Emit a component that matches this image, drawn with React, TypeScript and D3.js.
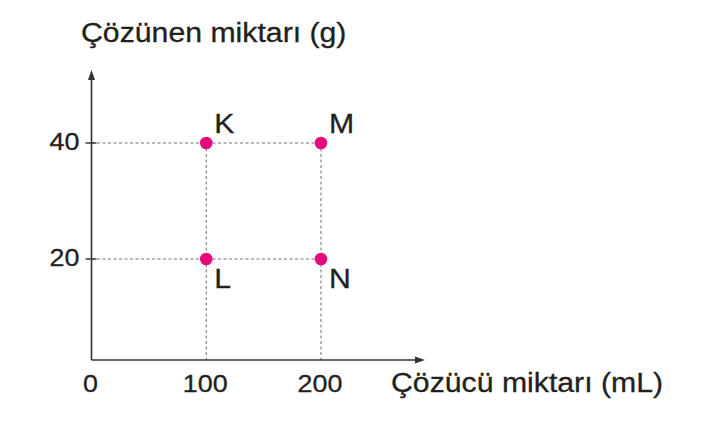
import React from "react";
import * as d3 from "d3";

const xTicks = [0, 100, 200];
const yTicks = [20, 40];
const pointNames = ["K", "M", "L", "N"];
const pointX = [100, 200, 100, 200];
const pointY = [40, 40, 20, 20];
const labelBelow = [false, false, true, true];
const yTitle = "Çözünen miktarı (g)";
const xTitle = "Çözücü miktarı (mL)";

const W = 706;
const H = 428;
const SX = 1.12;
const FONT = "'Liberation Sans', Arial, Helvetica, sans-serif";
const TEXT = "#231f20";
const AXIS = "#333";
const DOT = "#e5097f";

export default function App() {
  const x = d3.scaleLinear().domain([0, 200]).range([91.5, 321]);
  const y = d3.scaleLinear().domain([20, 40]).range([259, 143]);
  const axisY = 360;
  const axisX = x(0);
  const topY = 70;
  const rightX = 425;

  const T = (props: any) => {
    const { x: tx, y: ty, size, anchor, children } = props;
    return (
      <text
        transform={`translate(${tx},${ty}) scale(${SX},1)`}
        fontSize={size}
        fontFamily={FONT}
        fill={TEXT}
        stroke={TEXT}
        strokeWidth={0.3}
        textAnchor={anchor || "start"}
      >
        {children}
      </text>
    );
  };

  return (
    <svg
      width={W}
      height={H}
      style={{ position: "absolute", left: 0, top: 0, background: "#fff" }}
    >
      <rect width={W} height={H} fill="#fff" />
      {/* dashed guides */}
      {yTicks.map((v) => (
        <line
          key={"h" + v}
          x1={axisX}
          x2={x(d3.max(pointX) as number)}
          y1={y(v)}
          y2={y(v)}
          stroke="#6f6f6f"
          strokeWidth={1}
          strokeDasharray="3 2.5"
        />
      ))}
      {xTicks
        .filter((v) => v > 0)
        .map((v) => (
          <line
            key={"v" + v}
            x1={x(v)}
            x2={x(v)}
            y1={y(d3.max(pointY) as number)}
            y2={axisY}
            stroke="#6f6f6f"
            strokeWidth={1}
            strokeDasharray="3 2.5"
          />
        ))}
      {/* axes */}
      <line x1={axisX} x2={axisX} y1={axisY} y2={topY + 8} stroke={AXIS} strokeWidth={1.6} />
      <line x1={axisX} x2={rightX - 9} y1={axisY} y2={axisY} stroke={AXIS} strokeWidth={1.6} />
      <path
        d={`M${axisX},${topY} L${axisX - 3.5},${topY + 10} L${axisX + 3.5},${topY + 10} Z`}
        fill={AXIS}
      />
      <path
        d={`M${rightX},${axisY} L${rightX - 10},${axisY - 3.5} L${rightX - 10},${axisY + 3.5} Z`}
        fill={AXIS}
      />
      {/* y ticks */}
      {yTicks.map((v) => (
        <g key={"yt" + v}>
          <line x1={axisX - 6} x2={axisX + 5} y1={y(v)} y2={y(v)} stroke={AXIS} strokeWidth={1.4} />
          <T x={axisX - 12} y={y(v) + 7} size={24} anchor="end">
            {v}
          </T>
        </g>
      ))}
      {/* x tick labels */}
      {xTicks.map((v) => (
        <T key={"xt" + v} x={x(v) - 1} y={392} size={24} anchor="middle">
          {v}
        </T>
      ))}
      {/* points */}
      {pointNames.map((n, i) => (
        <g key={n}>
          <circle cx={x(pointX[i])} cy={y(pointY[i])} r={6.3} fill={DOT} />
          <T
            x={x(pointX[i]) + 8}
            y={y(pointY[i]) + (labelBelow[i] ? 29 : -10)}
            size={27}
          >
            {n}
          </T>
        </g>
      ))}
      {/* titles */}
      <T x={81} y={42} size={27}>
        {yTitle}
      </T>
      <T x={391} y={392} size={27}>
        {xTitle}
      </T>
    </svg>
  );
}
